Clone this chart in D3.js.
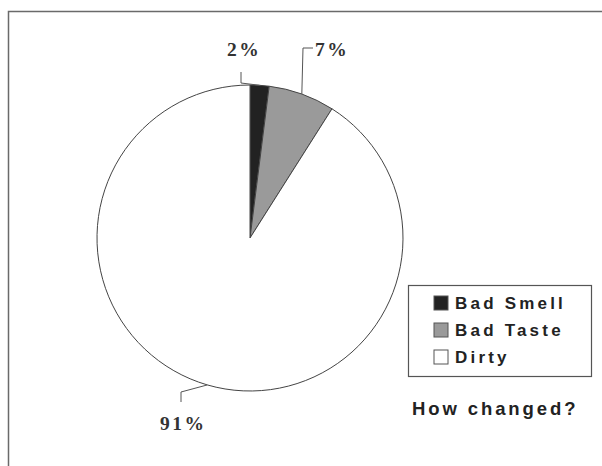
<!DOCTYPE html>
<html>
<head>
<meta charset="utf-8">
<script src="https://cdn.jsdelivr.net/npm/d3@7"></script>
<style>
  html, body { margin: 0; padding: 0; background: #fff; }
  svg { display: block; }
</style>
</head>
<body>
<svg id="chart" width="602" height="466"></svg>
<script>
// Reasons given for the change
const categories = ["Bad Smell", "Bad Taste", "Dirty"];
const values = [2, 7, 91];
const labels = ["2%", "7%", "91%"];
const colors = ["#222222", "#9a9a9a", "#ffffff"];
const title = "How changed?";

const svg = d3.select("#chart");

// outer frame
svg.append("rect")
  .attr("x", 8.5).attr("y", 11.5)
  .attr("width", 620).attr("height", 480)
  .attr("fill", "none")
  .attr("stroke", "#6a6a6a")
  .attr("stroke-width", 1.5);

const cx = 250, cy = 238, r = 153;
const g = svg.append("g").attr("transform", `translate(${cx},${cy})`);

const pie = d3.pie().sort(null).value(d => d);
const arcs = pie(values);
const arc = d3.arc().innerRadius(0).outerRadius(r);

g.selectAll("path.slice")
  .data(arcs)
  .join("path")
  .attr("class", "slice")
  .attr("d", arc)
  .attr("fill", (d, i) => colors[i])
  .attr("stroke", "#444")
  .attr("stroke-width", 1);

// leader lines: from the midpoint of each slice's rim to its label
const rim = d => {
  const a = (d.startAngle + d.endAngle) / 2;
  return [r * Math.sin(a), -r * Math.cos(a)];
};
// label anchors relative to the pie centre
const labelPos = [
  { elbow: [-9, -155], end: [-9, -166], tx: -23, ty: -182 },
  { elbow: [53, -190], end: [63, -190], tx: 65, ty: -182 },
  { elbow: [-69, 154], end: [-69, 164], tx: -90, ty: 192 }
];

arcs.forEach((d, i) => {
  const p = rim(d);
  const lp = labelPos[i];
  g.append("path")
    .attr("d", d3.line()([p, lp.elbow, lp.end]))
    .attr("fill", "none")
    .attr("stroke", "#555")
    .attr("stroke-width", 1);
  g.append("text")
    .attr("x", lp.tx).attr("y", lp.ty)
    .attr("font-family", "'Liberation Serif', 'Times New Roman', serif")
    .attr("font-weight", "bold")
    .attr("font-size", 19.5)
    .attr("letter-spacing", 2.5)
    .attr("fill", "#333")
    .text(labels[i]);
});

// legend
const legend = svg.append("g").attr("transform", "translate(408,285)");
legend.append("rect")
  .attr("x", 0.5).attr("y", 0.5)
  .attr("width", 183).attr("height", 91)
  .attr("fill", "#fff")
  .attr("stroke", "#555")
  .attr("stroke-width", 1.2);

const rowY = d3.scalePoint().domain(categories).range([11, 65]);
const rows = legend.selectAll("g.row")
  .data(categories)
  .join("g")
  .attr("class", "row")
  .attr("transform", d => `translate(26,${rowY(d)})`);
rows.append("rect")
  .attr("width", 14).attr("height", 14)
  .attr("fill", (d, i) => colors[i])
  .attr("stroke", "#555")
  .attr("stroke-width", 1);
rows.append("text")
  .attr("x", 21).attr("y", 12.5)
  .attr("font-family", "'Liberation Sans', Arial, sans-serif")
  .attr("font-weight", "bold")
  .attr("font-size", 17)
  .attr("letter-spacing", 3.2)
  .attr("fill", "#222")
  .text(d => d);

svg.append("text")
  .attr("x", 412).attr("y", 415)
  .attr("font-family", "'Liberation Sans', Arial, sans-serif")
  .attr("font-weight", "bold")
  .attr("font-size", 18.5)
  .attr("letter-spacing", 2.9)
  .attr("fill", "#222")
  .text(title);
</script>
</body>
</html>
